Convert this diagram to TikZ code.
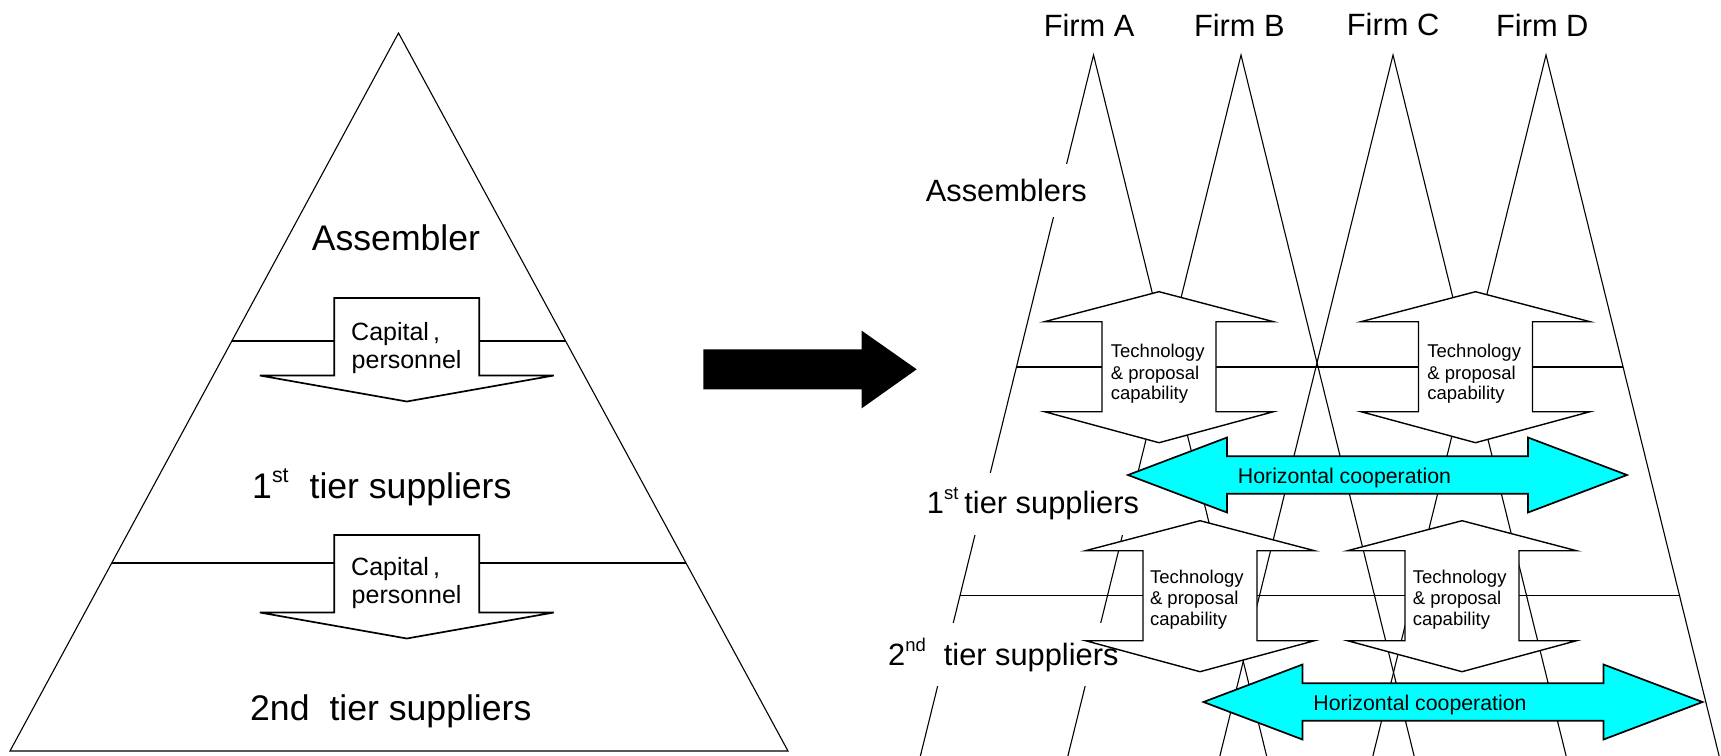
\documentclass[tikz,border=0pt]{standalone}
\usepackage{fontspec}
\setmainfont{Liberation Sans}
\usetikzlibrary{calc}
\definecolor{coopcyan}{HTML}{00FFFF}
\tikzset{
  thinline/.style={line width=1.1pt},
  boxline/.style={line width=1.7pt},
  bigtext/.style={font=\fontsize{35.6}{40}\selectfont, inner sep=0pt, anchor=base west},
  captext/.style={font=\fontsize{25}{28}\selectfont, inner sep=0pt, anchor=base west},
  labtext/.style={font=\fontsize{30.8}{34}\selectfont, inner sep=0pt, anchor=base west},
  masklab/.style={labtext, fill=white, inner xsep=3pt, inner ysep=15pt},
  techtext/.style={font=\fontsize{18.5}{21}\selectfont, inner sep=0pt, anchor=base west},
  cooptext/.style={font=\fontsize{21.3}{24}\selectfont, inner sep=0pt, anchor=base},
  caparrow/.pic={\draw[boxline, fill=white] (-72.5,0) -- (72.5,0) -- (72.5,77.5) -- (147,77.5) -- (0,103.5) -- (-147,77.5) -- (-72.5,77.5) -- cycle;},
  techarrow/.pic={\draw[line width=1.4pt, fill=white] (0,0) -- (114.5,30) -- (57,30) -- (57,120) -- (114.5,120) -- (0,151) -- (-114.5,120) -- (-57,120) -- (-57,30) -- (-114.5,30) -- cycle;},
  cooparrow/.pic={\draw[boxline, fill=coopcyan] (0,0) -- (99,-37.5) -- (99,-18.8) -- (400,-18.8) -- (400,-37.5) -- (499,0) -- (400,37.5) -- (400,18.8) -- (99,18.8) -- (99,37.5) -- cycle;}
}
\newcommand{\smallsup}[1]{\raisebox{0.45em}{\scalebox{0.6}{#1}}}
\begin{document}
\begin{tikzpicture}[x=1pt, y=-1pt, line join=miter]
\useasboundingbox (0,0) rectangle (1721,755);
\fill[white] (0,0) rectangle (1721,755);

% ---------- left pyramid ----------
\coordinate (LA) at (398.5,33);
\coordinate (LBL) at (10,751);
\coordinate (LBR) at (788,751);
\draw[thinline] (LA) -- (LBL) -- (LBR) -- cycle;
\draw[boxline] ($(LA)!0.42897!(LBL)$) -- ($(LA)!0.42897!(LBR)$);
\draw[boxline] ($(LA)!0.7377!(LBL)$) -- ($(LA)!0.7377!(LBR)$);

\pic (cap1) at (406.8,298) {caparrow};
\pic (cap2) at (406.8,535) {caparrow};
\node[captext] (cap1a) at (351,340) {Capital\,,};
\node[captext] (cap1b) at (351.5,368.3) {personnel};
\node[captext] (cap2a) at (351,575) {Capital\,,};
\node[captext] (cap2b) at (351.5,603.3) {personnel};

\node[bigtext] (assembler) at (311.7,250) {Assembler};
\node[bigtext] (tier1L) at (252,498.3) {1\smallsup{st}\hspace{21pt}tier suppliers};
\node[bigtext] (tier2L) at (250,720) {2nd\hspace{20pt}tier suppliers};

% ---------- big black arrow ----------
\fill[black] (703.3,349.3) -- (861.7,349.3) -- (861.7,330.7) -- (916.7,369.3) -- (861.7,408.3) -- (861.7,389.3) -- (703.3,389.3) -- cycle;

% ---------- right: firm pyramids ----------
\begin{scope}
\clip (0,0) rectangle (1721,755);
\foreach \n/\x in {A/1093.5,B/1241,C/1393,D/1546}{
  \coordinate (apex\n) at (\x,55);
  \coordinate (left\n) at (\x-184,800);
  \coordinate (right\n) at (\x+184,800);
  \draw[thinline] (left\n) -- (apex\n) -- (right\n);
}
\end{scope}
\coordinate (upL) at (1016.4,367);
\coordinate (upR) at (1623.1,367);
\coordinate (loL) at (960,595.5);
\coordinate (loR) at (1679.5,595.5);
\draw[boxline] (upL) -- (upR);
\draw[boxline] (loL) -- (loR);

\node[labtext] (firmA) at (1043.6,36.7) {Firm A};
\node[labtext] (firmB) at (1193.8,36.7) {Firm B};
\node[labtext] (firmC) at (1346.7,35) {Firm C};
\node[labtext] (firmD) at (1495.9,36.7) {Firm D};

\node[masklab] (assemblers) at (922.6,201.7) {Assemblers};
\node[masklab] (tier1R) at (923.7,513.3) {1\smallsup{st}\hspace{6pt}tier suppliers};
\node[masklab] (tier2R) at (885,665) {2\smallsup{nd}\hspace{18pt}tier suppliers};

% ---------- technology arrows ----------
\pic (tech1) at (1159,291.7) {techarrow};
\pic (tech2) at (1475.5,291.7) {techarrow};
\pic (tech3) at (1200,520.7) {techarrow};
\pic (tech4) at (1462,520.7) {techarrow};
\foreach \k/\x/\y in {1/1110.7/357.5, 2/1427.2/357.5, 3/1149.8/583, 4/1412.7/583}{
  \node[techtext] (tt\k a) at (\x,\y) {Technology};
  \node[techtext] (tt\k b) at (\x,\y+21.5) {\& proposal};
  \node[techtext] (tt\k c) at (\x,\y+42) {capability};
}

% ---------- horizontal cooperation ----------
\pic (coop1) at (1128,475) {cooparrow};
\pic (coop2) at (1203.5,702) {cooparrow};
\node[cooptext] (coop1t) at (1344.5,483.3) {Horizontal cooperation};
\node[cooptext] (coop2t) at (1420,710) {Horizontal cooperation};
\end{tikzpicture}
\end{document}
